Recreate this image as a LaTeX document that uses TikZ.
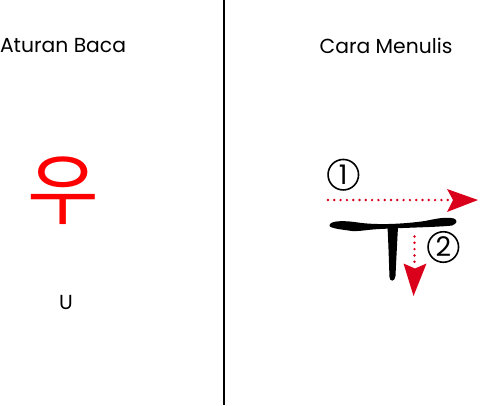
\documentclass[tikz,border=0pt]{standalone}
\usepackage{fontspec}
\setmainfont{Poppins}
\newfontfamily\krfont{Noto Sans CJK KR}
\definecolor{hanred}{RGB}{255,0,0}
\definecolor{arrred}{RGB}{218,0,28}
\begin{document}
\begin{tikzpicture}[x=1pt,y=-1pt,
  title/.style={font=\fontsize{20.3}{23}\selectfont, inner sep=0pt, anchor=center},
  dotline/.style={arrred, line width=2.7pt, line cap=round, dash pattern=on 0pt off 6.3pt},
  headfill/.style={fill=arrred, draw=none},
  numlabel/.style={circle, draw=black, line width=1.6pt, minimum size=30.5pt, inner sep=0pt,
    font=\fontsize{27}{27}\selectfont, anchor=center}]
\useasboundingbox (0,0) rectangle (480,405);
\fill[white] (0,0) rectangle (480,405);
% divider
\coordinate (dtop) at (224,0);
\coordinate (dbot) at (224,405);
\draw[line width=1.3pt] (dtop) -- (dbot);
% titles
\node[title] (t1) at (63,45.5) {Aturan Baca};
\node[title] (t2) at (386,45.5) {Cara Menulis};
% hangul
\node[inner sep=0pt, text=hanred, font=\krfont\fontsize{78}{78}\selectfont] (han) at (63,191) {우};
\node[title] (rom) at (66,302) {U};
% brush stroke
\fill[black] (330,224) .. controls (333,220.5) and (345,220.5) .. (358,222.5)
  .. controls (375,225) and (400,224.5) .. (425,221)
  .. controls (435,219) and (445,216.5) .. (454,218.5)
  .. controls (458,220) and (457,224) .. (452,225.5)
  .. controls (440,227) and (410,227.5) .. (380,229)
  .. controls (368,229.5) and (360,231.5) .. (352,231)
  .. controls (345,230) and (336,229) .. (332,227.5)
  .. controls (329,226.5) and (329,225) .. (330,224) -- cycle;
\fill[black] (387.5,227) -- (398,227)
  .. controls (397,245) and (396,265) .. (395.5,276)
  .. controls (395,282) and (389.5,282) .. (389.5,277)
  .. controls (389,265) and (388.5,245) .. (387.5,227) -- cycle;
% stroke order 1
\coordinate (h1) at (328,200);
\coordinate (h2) at (452,200);
\draw[dotline] (h1) -- (h2);
\fill[headfill] (478,200) -- (447,189) -- (453,200) -- (447,212) -- cycle;
\node[numlabel] (n1) at (343.3,174.7) {\raisebox{-0.5pt}{1}};
% stroke order 2
\coordinate (v1) at (414.5,236.5);
\coordinate (v2) at (414.5,267);
\draw[dotline] (v1) -- (v2);
\fill[headfill] (413.5,296) -- (403.5,263.5) -- (415,268.5) -- (426.5,263.5) -- cycle;
\node[numlabel] (n2) at (443.3,247) {\raisebox{-0.5pt}{2}};
\end{tikzpicture}
\end{document}
